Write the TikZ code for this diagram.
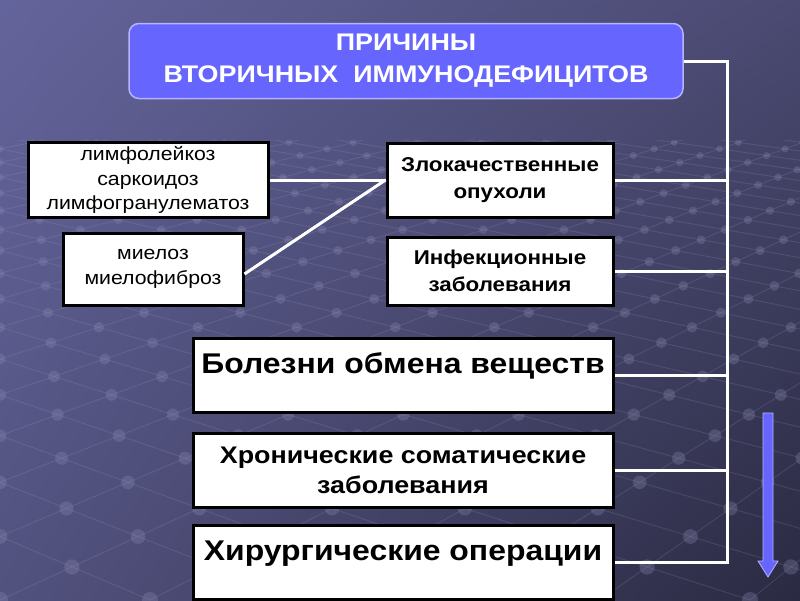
\documentclass[tikz,border=0pt]{standalone}
\usepackage{fontspec}
\setmainfont{Liberation Sans}[FakeStretch=1.12]
\usetikzlibrary{shadings}
\definecolor{bgtl}{HTML}{64649C}
\definecolor{bgtr}{HTML}{4A4A72}
\definecolor{bgbl}{HTML}{52527F}
\definecolor{bgbr}{HTML}{2A2A42}
\definecolor{headblue}{HTML}{6666FF}
\definecolor{headrim}{HTML}{B4B4FF}
\newcommand\fstitle{\fontsize{24}{32}\selectfont\bfseries}
\newcommand\fsbig{\fontsize{28.5}{32}\selectfont\bfseries}
\newcommand\fsmid{\fontsize{24}{30}\selectfont\bfseries}
\newcommand\fsbox{\fontsize{20}{27}\selectfont\bfseries}
\newcommand\fssmall{\fontsize{19}{24.5}\selectfont}

\begin{document}
\begin{tikzpicture}[x=1pt, y=-1pt,
			declare function = {
					gt(\a,\b) = (\b-\a)/(3480+\b-\a);
					gx(\a,\b) = \a+gt(\a,\b)*(1740-\a);
					gy(\a,\b) = 600-800*gt(\a,\b);
				},
			headbox/.style = {draw=headrim, line width=1.5pt, fill=headblue, rounded corners=10pt, text=white, align=center, font=\fstitle, minimum width=554pt, minimum height=75pt},
			box/.style = {draw=black, line width=3pt, fill=white, align=center, inner sep=0pt},
			wire/.style = {white, line width=3pt},
			gridline/.style = {color=bgtl!55!white, opacity=0.16, line width=1pt},
			griddot/.style = {fill=bgtl!75!white, opacity=0.3},
		]
		\path[use as bounding box] (0,0) rectangle (800,600);
		\shade[upper left=bgtl, upper right=bgtr, lower left=bgbl, lower right=bgbr] (0,0) rectangle (800,600);
		\begin{scope}
			\clip (0,140) rectangle (800,600);
			\coordinate (vpr) at (1740,-200);
			\coordinate (vpl) at (-1740,-200);
			\foreach \a in {-2850,-2700,...,750} \draw[gridline] (\a,600) -- (vpr);
			\foreach \b in {0,150,...,4950} \draw[gridline] (\b,600) -- (vpl);
			\foreach \a in {-2850,-2700,...,750}
				\foreach \b in {0,150,...,4950}
					\fill[griddot] ({gx(\a,\b)},{gy(\a,\b)}) circle[radius={8pt*(1-gt(\a,\b))}];
		\end{scope}

		\node[headbox] (title) at (406,61) {ПРИЧИНЫ\\ВТОРИЧНЫХ\ \ ИММУНОДЕФИЦИТОВ};
		\node[box, font=\fssmall, minimum width=240pt, minimum height=75pt] (lympho) at (148,180) {лимфолейкоз\\саркоидоз\\лимфогранулематоз};
		\node[box, font=\fssmall, minimum width=180pt, minimum height=72pt] (myelo) at (153,269) {миелоз\\миелофиброз};
		\node[box, font=\fsbox, minimum width=226pt, minimum height=74pt] (onco) at (500,180) {Злокачественные\\опухоли};
		\node[box, font=\fsbox, minimum width=226pt, minimum height=68pt] (infect) at (500,271) {Инфекционные\\заболевания};
		\node[box, font=\fsbig, minimum width=420pt, minimum height=74pt, text height=20.5pt, text depth=24pt] (metab) at (403,375) {Болезни обмена веществ};
		\node[box, font=\fsmid, minimum width=420pt, minimum height=74pt] (somat) at (403,470) {Хронические соматические\\заболевания};
		\node[box, font=\fsbig, minimum width=420pt, minimum height=74pt, text height=20.5pt, text depth=24pt] (surg) at (403,562) {Хирургические операции};

		\coordinate (bus) at (727,61);
		\draw[wire] (lympho.east) -- (onco.west);
		\draw[wire] ([yshift=-5pt]myelo.east) -- (onco.west);
		\draw[wire] (title.east) -- (bus) |- (surg.east);
		\foreach \n in {onco, infect, metab, somat}
			\draw[wire] (\n.east) -- (\n.east -| bus);
		\filldraw[fill=headblue, draw=headrim, line width=0.8pt] (763,413) -- (773,413) -- (773,561) -- (778,561) -- (768,577) -- (758,561) -- (763,561) -- cycle;
	\end{tikzpicture}
\end{document}
